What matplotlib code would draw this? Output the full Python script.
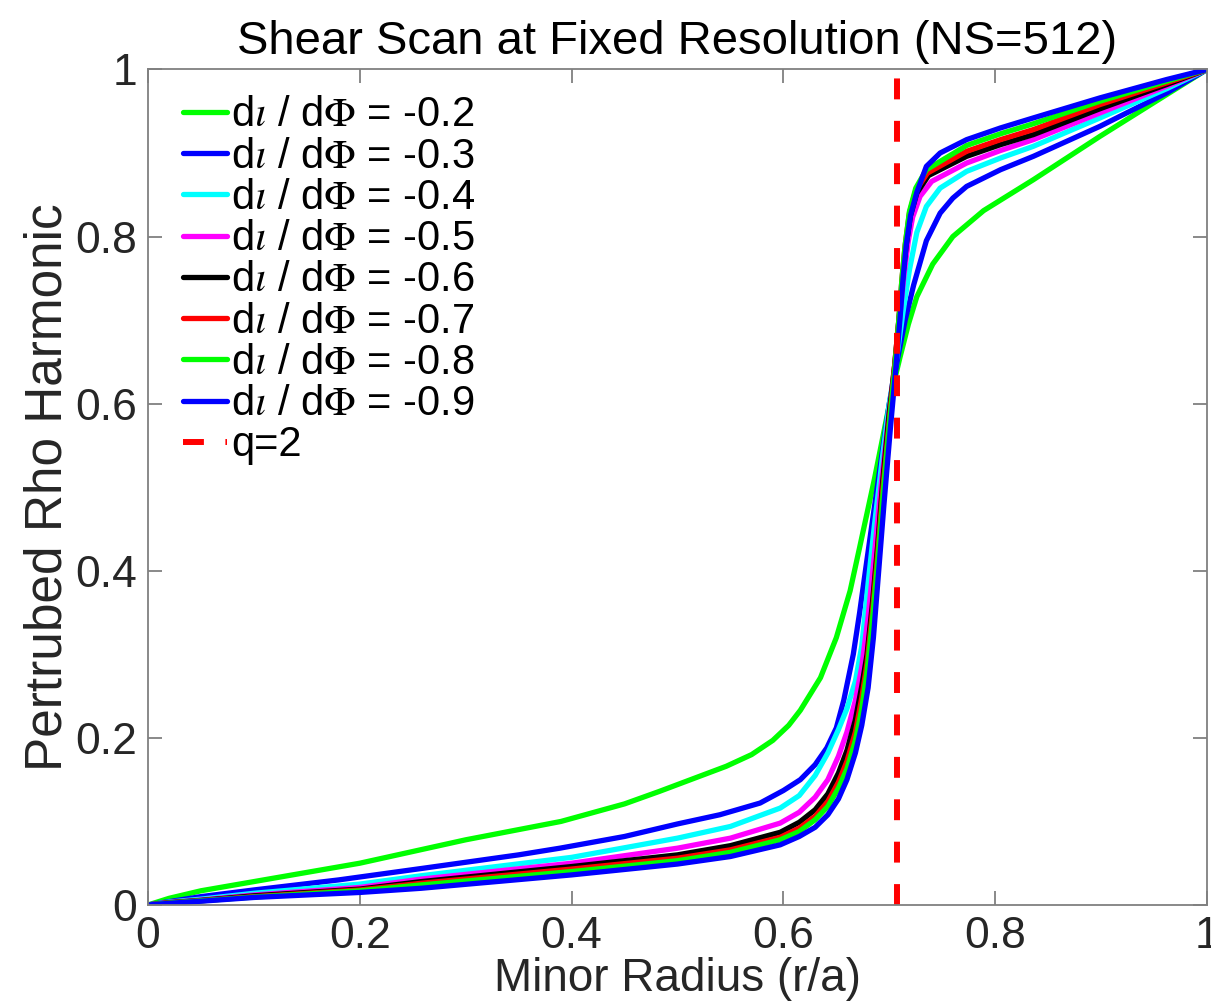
import matplotlib
matplotlib.use('Agg')
import matplotlib.pyplot as plt

# radius of the q=2 surface
q2_radius = 0.7071

shear_labels = ['-0.2', '-0.3', '-0.4', '-0.5', '-0.6', '-0.7', '-0.8', '-0.9']
line_colors = ['#00ff00', '#0000ff', '#00ffff', '#ff00ff',
               '#000000', '#ff0000', '#00ff00', '#0000ff']

# values, one pair of lists per shear
x_s02 = [0, 0.02, 0.05, 0.1, 0.2, 0.3, 0.39, 0.45, 0.483, 0.546, 0.57, 0.59,
         0.605, 0.616, 0.635, 0.650, 0.663, 0.672, 0.686, 0.695, 0.703,
         0.710, 0.718, 0.726, 0.741, 0.760, 0.789, 0.836, 0.899, 0.962, 1.0]
y_s02 = [0, 0.008, 0.017, 0.028, 0.050, 0.078, 0.100, 0.121, 0.136, 0.166,
         0.180, 0.197, 0.215, 0.233, 0.272, 0.320, 0.376, 0.428, 0.510,
         0.567, 0.618, 0.655, 0.695, 0.728, 0.767, 0.800, 0.831, 0.868,
         0.920, 0.970, 1.0]

x_s03 = [0, 0.02, 0.05, 0.1, 0.18, 0.26, 0.35, 0.389, 0.45, 0.5, 0.54, 0.578,
         0.60, 0.616, 0.630, 0.641, 0.650, 0.657, 0.666, 0.672, 0.678, 0.685,
         0.692, 0.700, 0.708, 0.715, 0.723, 0.735, 0.748, 0.760, 0.773,
         0.805, 0.836, 0.899, 0.962, 1.0]
y_s03 = [0, 0.004, 0.010, 0.018, 0.030, 0.044, 0.060, 0.068, 0.082, 0.097,
         0.108, 0.122, 0.137, 0.150, 0.168, 0.188, 0.212, 0.245, 0.300,
         0.350, 0.405, 0.468, 0.530, 0.600, 0.655, 0.700, 0.742, 0.795,
         0.828, 0.846, 0.860, 0.880, 0.896, 0.932, 0.972, 1.0]

# the tighter profiles share the same lower grid
x_low = [0, 0.02, 0.05, 0.1, 0.2, 0.258, 0.4, 0.5, 0.55, 0.597, 0.615, 0.630,
         0.642, 0.652, 0.660, 0.668, 0.674]

x_s04 = x_low + [0.680, 0.686, 0.693, 0.700, 0.707, 0.713, 0.719, 0.726,
                 0.735, 0.748, 0.773, 0.805, 0.836, 0.899, 0.962, 1.0]
y_s04 = [0, 0.0035, 0.007, 0.014, 0.025, 0.035, 0.057, 0.080, 0.094, 0.116,
         0.131, 0.155, 0.182, 0.210, 0.235, 0.268, 0.310,
         0.385, 0.455, 0.530, 0.600, 0.655, 0.710, 0.760, 0.805,
         0.836, 0.858, 0.878, 0.894, 0.908, 0.942, 0.977, 1.0]

x_s05 = x_low + [0.680, 0.686, 0.692, 0.699, 0.705, 0.710, 0.714, 0.718,
                 0.722, 0.729, 0.740, 0.773, 0.805, 0.836, 0.899, 0.962, 1.0]
y_s05 = [0, 0.003, 0.006, 0.012, 0.021, 0.031, 0.050, 0.068, 0.080, 0.098,
         0.111, 0.129, 0.150, 0.178, 0.207, 0.245, 0.285,
         0.345, 0.420, 0.500, 0.580, 0.645, 0.705, 0.755, 0.795,
         0.823, 0.848, 0.866, 0.888, 0.903, 0.916, 0.948, 0.980, 1.0]

x_s06 = x_low + [0.679, 0.684, 0.689, 0.694, 0.700, 0.705, 0.709, 0.713,
                 0.716, 0.720, 0.726, 0.737, 0.773, 0.805, 0.836, 0.899,
                 0.962, 1.0]
y_s06 = [0, 0.0028, 0.0055, 0.011, 0.019, 0.028, 0.046, 0.060, 0.071, 0.087,
         0.099, 0.114, 0.133, 0.158, 0.185, 0.222, 0.262,
         0.300, 0.360, 0.430, 0.510, 0.590, 0.645, 0.700, 0.755, 0.790,
         0.825, 0.852, 0.873, 0.896, 0.910, 0.922, 0.953, 0.982, 1.0]

x_s07 = x_low + [0.679, 0.684, 0.689, 0.694, 0.700, 0.705, 0.709, 0.712,
                 0.715, 0.719, 0.725, 0.736, 0.773, 0.805, 0.836, 0.899,
                 0.962, 1.0]
y_s07 = [0, 0.0025, 0.005, 0.010, 0.018, 0.026, 0.043, 0.056, 0.066, 0.081,
         0.092, 0.106, 0.124, 0.147, 0.172, 0.207, 0.248,
         0.290, 0.350, 0.420, 0.500, 0.580, 0.645, 0.700, 0.750, 0.790,
         0.828, 0.855, 0.876, 0.902, 0.916, 0.928, 0.958, 0.984, 1.0]

x_s08 = x_low + [0.679, 0.684, 0.689, 0.694, 0.700, 0.705, 0.709, 0.712,
                 0.715, 0.719, 0.725, 0.735, 0.773, 0.805, 0.836, 0.899,
                 0.962, 1.0]
y_s08 = [0, 0.0023, 0.005, 0.0095, 0.017, 0.024, 0.040, 0.053, 0.063, 0.078,
         0.088, 0.102, 0.118, 0.140, 0.163, 0.197, 0.235,
         0.280, 0.340, 0.410, 0.490, 0.575, 0.640, 0.700, 0.750, 0.790,
         0.830, 0.858, 0.880, 0.909, 0.923, 0.935, 0.962, 0.986, 1.0]

x_s09 = x_low + [0.680, 0.685, 0.690, 0.695, 0.701, 0.706, 0.710, 0.713,
                 0.716, 0.720, 0.726, 0.735, 0.748, 0.773, 0.805, 0.836,
                 0.899, 0.962, 1.0]
y_s09 = [0, 0.002, 0.0045, 0.009, 0.015, 0.020, 0.036, 0.049, 0.058, 0.072,
         0.082, 0.093, 0.108, 0.127, 0.150, 0.182, 0.215,
         0.260, 0.320, 0.400, 0.480, 0.570, 0.640, 0.700, 0.750, 0.790,
         0.825, 0.853, 0.884, 0.900, 0.916, 0.930, 0.942, 0.966, 0.988, 1.0]

profiles = [(x_s02, y_s02), (x_s03, y_s03), (x_s04, y_s04), (x_s05, y_s05),
            (x_s06, y_s06), (x_s07, y_s07), (x_s08, y_s08), (x_s09, y_s09)]

tick_vals = [0, 0.2, 0.4, 0.6, 0.8, 1]
tick_text = ['0', '0.2', '0.4', '0.6', '0.8', '1']

plt.rcParams['font.family'] = ['Liberation Sans Narrow', 'Liberation Sans',
                               'DejaVu Sans']
plt.rcParams['mathtext.fontset'] = 'stix'

fig = plt.figure(figsize=(12.11, 10.08), dpi=100)
ax = fig.add_axes([0.1222, 0.1022, 0.8745, 0.8289])

for (xs, ys), col, lab in zip(profiles, line_colors, shear_labels):
    ax.plot(xs, ys, color=col, linewidth=3.8, solid_joinstyle='round',
            solid_capstyle='round', label=r'd$\iota$ / d$\Phi$ = ' + lab)

ax.plot([q2_radius, q2_radius], [0, 1], color='#ff0000', linewidth=4.3,
        linestyle=(0, (3.5, 3.6)), label='q=2')

ax.set_xlim(0, 1)
ax.set_ylim(0, 1)
ax.set_xticks(tick_vals)
ax.set_xticklabels(tick_text)
ax.set_yticks(tick_vals)
ax.set_yticklabels(tick_text)
ax.tick_params(direction='in', length=10, width=1.3, color='#808080',
               labelsize=32, labelcolor='#262626', top=True, right=True,
               pad=8)
for sp in ax.spines.values():
    sp.set_color('#808080')
    sp.set_linewidth(1.3)

ax.set_xlabel('Minor Radius (r/a)', fontsize=33, color='#262626', labelpad=0)
ax.set_ylabel('Pertrubed Rho Harmonic', fontsize=37, color='#262626',
              labelpad=2)
ax.set_title('Shear Scan at Fixed Resolution (NS=512)', fontsize=34,
             color='black', pad=11)

ax.legend(loc='upper left', bbox_to_anchor=(0.033, 0.969), frameon=False,
          fontsize=30, handlelength=1.05, handletextpad=0.1,
          labelspacing=0.03, borderaxespad=0, borderpad=0)

fig.savefig('out.png', dpi=100)
